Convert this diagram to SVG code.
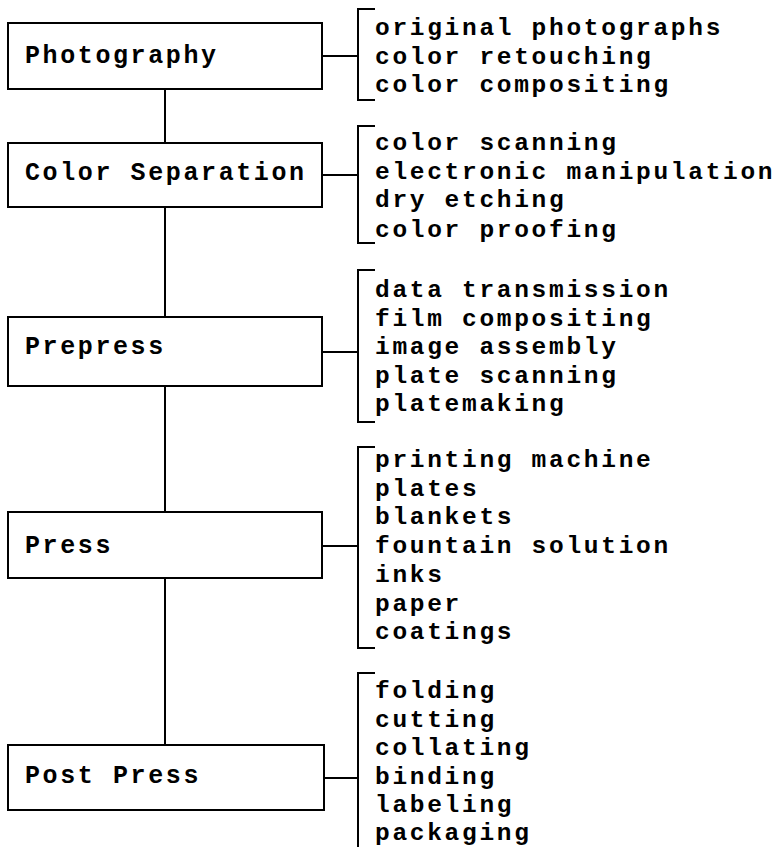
<svg xmlns="http://www.w3.org/2000/svg" width="779" height="847" viewBox="0 0 779 847">
<style>
.box{fill:#fff;stroke:#000;stroke-width:2}
.ln{fill:none;stroke:#000;stroke-width:2}
.lbl{font-family:"Liberation Mono","Courier New",monospace;font-weight:bold;font-size:25px;letter-spacing:2.6px;fill:#000}
.it{font-family:"Liberation Mono","Courier New",monospace;font-weight:bold;font-size:24.5px;letter-spacing:2.7px;fill:#000}
</style>
<rect width="779" height="847" fill="#fff"/>
<g id="connectors" class="ln">
<path d="M165 89V143M165 207V317M165 386V512M165 578V745"/>
<path d="M322 56H358M375 9H358V100H375"/>
<path d="M322 175H358M375 126H358V243H375"/>
<path d="M322 352H358M375 270H358V422H375"/>
<path d="M322 546H358M375 447H358V648H375"/>
<path d="M324 778H358M375 673H358V847"/>
</g>
<g id="photography">
<rect class="box" x="8" y="23" width="314" height="66"/>
<text class="lbl" x="25" y="63">Photography</text>
<text class="it"><tspan x="375" y="35">original photographs</tspan><tspan x="375" y="63.5">color retouching</tspan><tspan x="375" y="92">color compositing</tspan></text>
</g>
<g id="color-separation">
<rect class="box" x="8" y="143" width="314" height="64"/>
<text class="lbl" x="25" y="180">Color Separation</text>
<text class="it"><tspan x="375" y="150">color scanning</tspan><tspan x="375" y="178.5">electronic manipulation</tspan><tspan x="375" y="207">dry etching</tspan><tspan x="375" y="236.5">color proofing</tspan></text>
</g>
<g id="prepress">
<rect class="box" x="8" y="317" width="314" height="69"/>
<text class="lbl" x="25" y="354">Prepress</text>
<text class="it"><tspan x="375" y="297">data transmission</tspan><tspan x="375" y="325.5">film compositing</tspan><tspan x="375" y="354">image assembly</tspan><tspan x="375" y="382.5">plate scanning</tspan><tspan x="375" y="411">platemaking</tspan></text>
</g>
<g id="press">
<rect class="box" x="8" y="512" width="314" height="66"/>
<text class="lbl" x="25" y="553">Press</text>
<text class="it"><tspan x="375" y="467">printing machine</tspan><tspan x="375" y="495.5">plates</tspan><tspan x="375" y="524">blankets</tspan><tspan x="375" y="553">fountain solution</tspan><tspan x="375" y="582">inks</tspan><tspan x="375" y="610.5">paper</tspan><tspan x="375" y="639">coatings</tspan></text>
</g>
<g id="post-press">
<rect class="box" x="8" y="745" width="316" height="65"/>
<text class="lbl" x="25" y="783">Post Press</text>
<text class="it"><tspan x="375" y="698">folding</tspan><tspan x="375" y="726.5">cutting</tspan><tspan x="375" y="755">collating</tspan><tspan x="375" y="783.5">binding</tspan><tspan x="375" y="812">labeling</tspan><tspan x="375" y="840">packaging</tspan></text>
</g>
</svg>
